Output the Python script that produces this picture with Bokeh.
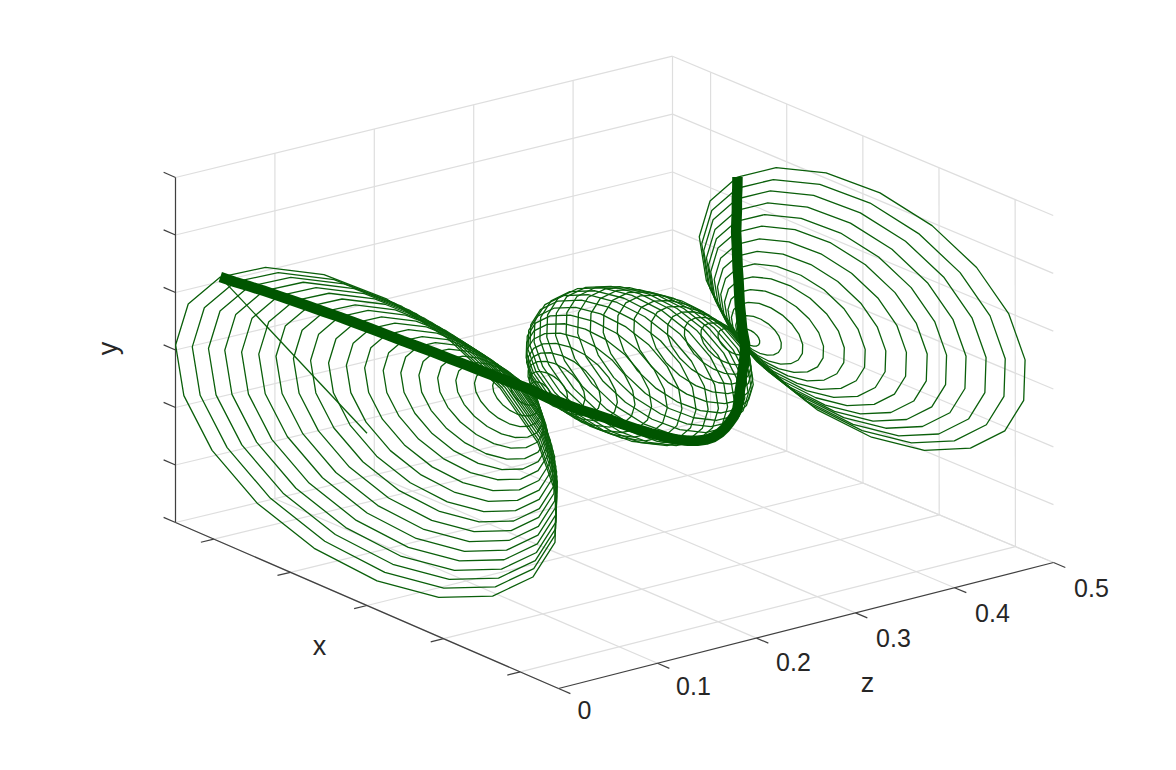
import numpy as np
from bokeh.plotting import figure
from bokeh.models import Range1d
from bokeh.core.properties import value
from bokeh.embed import file_html
from bokeh.resources import INLINE

# ---- data ----
x_ticks = [-0.8, -0.4, 0.0, 0.4, 0.8]
y_ticks = [-1.2, -0.8, -0.4, 0.0, 0.4, 0.8, 1.2]
z_ticks = [0.0, 0.1, 0.2, 0.3, 0.4, 0.5]
z_labels = ["0", "0.1", "0.2", "0.3", "0.4", "0.5"]

ring_z = [0.0, 0.0083, 0.0167, 0.025, 0.0333, 0.0417, 0.05, 0.0583, 0.0667, 0.075,
          0.0833, 0.0917, 0.1, 0.1083, 0.1167, 0.125, 0.1333, 0.1417, 0.15, 0.1583,
          0.1667, 0.1748, 0.1829, 0.191, 0.1991, 0.2072, 0.2153, 0.2234, 0.2315, 0.2396,
          0.2477, 0.2558, 0.2639, 0.272, 0.2801, 0.2882, 0.2963, 0.3044, 0.3125, 0.3206,
          0.3287, 0.3368, 0.3449, 0.353, 0.3611, 0.3692, 0.3773, 0.386, 0.3948, 0.4035,
          0.4123, 0.4211, 0.4298, 0.4386, 0.4474, 0.4562, 0.4649, 0.4737, 0.4825, 0.4912, 0.5]
ring_r = [1.0, 0.956, 0.915, 0.873, 0.828, 0.782, 0.735, 0.687, 0.641, 0.590,
          0.540, 0.488, 0.434, 0.385, 0.334, 0.279, 0.227, 0.173, 0.121, 0.068,
          0.018, -0.05, -0.10, -0.15, -0.19, -0.235, -0.285, -0.33, -0.37, -0.405,
          -0.437, -0.458, -0.47, -0.476, -0.472, -0.459, -0.44, -0.416, -0.39, -0.358,
          -0.313, -0.265, -0.22, -0.173, -0.128, -0.08, -0.026, 0.052, 0.12, 0.188,
          0.252, 0.316, 0.381, 0.444, 0.507, 0.571, 0.628, 0.685, 0.745, 0.801, 0.86]
ring_deg = [140, 159, 178, 197, 216, 235, 254, 273, 292, 311,
            330, 349, 368, 387, 406, 425, 444, 463, 482, 500]
start_deg = 140

# ---- box geometry: page pixels of the eight box corners (u, v, w) ----
XLIM, YLIM, ZMAX = 1.0, 1.2, 0.5
CORNERS = {
    (0, 0, 0): (175, 522), (1, 0, 0): (558, 688),
    (0, 1, 0): (175, 177), (1, 1, 0): (558, 344),
    (0, 0, 1): (672, 403), (1, 0, 1): (1053, 562),
    (0, 1, 1): (672, 55.7), (1, 1, 1): (1052.7, 215),
}


def proj(x, y, z):
    u = (np.asarray(x, float) + XLIM) / (2 * XLIM)
    v = (np.asarray(y, float) + YLIM) / (2 * YLIM)
    w = np.asarray(z, float) / ZMAX
    px, py = 0.0, 0.0
    for (a, b, c), (cx, cy) in CORNERS.items():
        f = (u if a else 1 - u) * (v if b else 1 - v) * (w if c else 1 - w)
        px = px + f * cx
        py = py + f * cy
    return px, py


W, H = 1160, 754
p = figure(width=W, height=H, output_backend="svg", toolbar_location=None,
           x_range=Range1d(0, W), y_range=Range1d(H, 0),
           min_border=0, x_axis_type=None, y_axis_type=None)
p.outline_line_color = None
p.xgrid.visible = False
p.ygrid.visible = False
p.background_fill_color = "white"


def seg(a, b):
    x, y = proj([a[0], b[0]], [a[1], b[1]], [a[2], b[2]])
    return list(x), list(y)


# grid walls
gx, gy = [], []
for zt in z_ticks:
    for s in (seg((-XLIM, -YLIM, zt), (-XLIM, YLIM, zt)), seg((-XLIM, -YLIM, zt), (XLIM, -YLIM, zt))):
        gx.append(s[0]); gy.append(s[1])
for yt in y_ticks:
    for s in (seg((-XLIM, yt, 0), (-XLIM, yt, ZMAX)), seg((-XLIM, yt, ZMAX), (XLIM, yt, ZMAX))):
        gx.append(s[0]); gy.append(s[1])
for xt in x_ticks:
    for s in (seg((xt, -YLIM, ZMAX), (xt, YLIM, ZMAX)), seg((xt, -YLIM, 0), (xt, -YLIM, ZMAX))):
        gx.append(s[0]); gy.append(s[1])
p.multi_line(gx, gy, line_color="#dedede", line_width=1.2)

# axes and ticks
ax_col = "#404040"
ax, ay = [], []
for s in (seg((-XLIM, -YLIM, 0), (-XLIM, YLIM, 0)),
          seg((-XLIM, -YLIM, 0), (XLIM, -YLIM, 0)),
          seg((XLIM, -YLIM, 0), (XLIM, -YLIM, ZMAX))):
    ax.append(s[0]); ay.append(s[1])
for yt in y_ticks:
    s = seg((-XLIM, yt, 0), (-XLIM - 0.062, yt, 0)); ax.append(s[0]); ay.append(s[1])
for xt in x_ticks:
    s = seg((xt, -YLIM, 0), (xt, -YLIM, -0.013)); ax.append(s[0]); ay.append(s[1])
for zt in z_ticks:
    s = seg((XLIM, -YLIM, zt), (XLIM + 0.062, -YLIM, zt)); ax.append(s[0]); ay.append(s[1])
p.multi_line(ax, ay, line_color=ax_col, line_width=1.2)

# rings
theta = np.radians(ring_deg)
rx, ry = [], []
for z, r in zip(ring_z, ring_r):
    px, py = proj(r * np.cos(theta), r * np.sin(theta), np.full(theta.shape, z))
    rx.append(list(px)); ry.append(list(py))
# radial line of the first ring
t0 = np.radians(start_deg)
px, py = proj([ring_r[0] * np.cos(t0), 0], [ring_r[0] * np.sin(t0), 0], [ring_z[0], ring_z[0]])
rx.append(list(px)); ry.append(list(py))
p.multi_line(rx, ry, line_color="#0a5f0a", line_width=1.3, line_join="round")

# thick curve
R = np.array(ring_r)
tx, ty = proj(R * np.cos(t0), R * np.sin(t0), ring_z)
p.line(list(tx), list(ty), line_color="#005500", line_width=10.5, line_join="round", line_cap="butt")

# texts
font = value("Liberation Sans")
lab_x = [584, 693, 793, 893, 992, 1091]
lab_y = [709, 685, 661, 637, 612, 587]
p.text(lab_x, lab_y, text=z_labels, text_font=font, text_font_size=value("25px"),
       text_color="#262626", text_align="center", text_baseline="middle")
p.text([319, 867], [645, 682], text=["x", "z"], text_font=font, text_font_size=value("27px"),
       text_color="#262626", text_align="center", text_baseline="middle")
p.text([107], [348], text=["y"], text_font=font, text_font_size=value("27px"), angle=np.pi / 2,
       text_color="#262626", text_align="center", text_baseline="middle")

open("out.html", "w").write(file_html(p, INLINE))
